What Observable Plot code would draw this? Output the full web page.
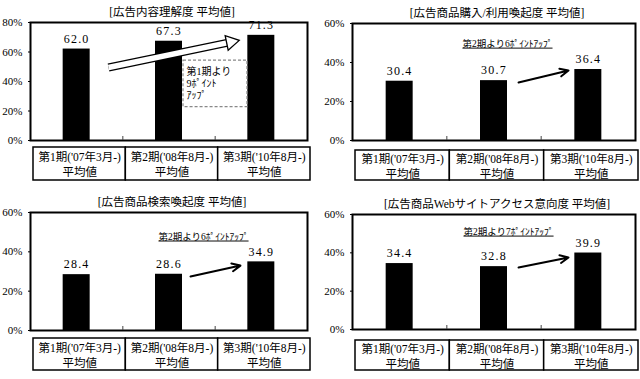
<!DOCTYPE html>
<html><head><meta charset="utf-8">
<script src="https://cdn.jsdelivr.net/npm/d3@7"></script>
<script src="https://cdn.jsdelivr.net/npm/@observablehq/plot@0.6"></script>
<style>
body{margin:0;background:#fff;}
#wrap{position:relative;width:640px;height:379px;overflow:hidden;background:#fff;}
.panel{position:absolute;}
</style></head><body><div id="wrap"></div>
<script>
// ---- data ----
const periods = ["第1期('07年3月-)", "第2期('08年8月-)", "第3期('10年8月-)"];
const periodSub = ["平均値", "平均値", "平均値"];
const titles = ["[広告内容理解度 平均値]", "[広告商品購入/利用喚起度 平均値]", "[広告商品検索喚起度 平均値]", "[広告商品Webサイトアクセス意向度 平均値]"];
const understanding = [62.0, 67.3, 71.3];
const purchase = [30.4, 30.7, 36.4];
const search = [28.4, 28.6, 34.9];
const webAccess = [34.4, 32.8, 39.9];
const yMax = [80, 60, 60, 60];
const notes = ["第1期より\n9ﾎﾟｲﾝﾄ\nｱｯﾌﾟ", "第2期より6ﾎﾟｲﾝﾄｱｯﾌﾟ", "第2期より6ﾎﾟｲﾝﾄｱｯﾌﾟ", "第2期より7ﾎﾟｲﾝﾄｱｯﾌﾟ"];

const SERIF = "'Liberation Serif', 'Noto Sans CJK JP', serif";

// ---- layout ----
const layout = [
  {values: understanding, left: 0, top: 0, height: 190, mt: 22, mb: 50, ml: 30, mr: 13, t1: 7, t2: 40,
   arrow: {x1: 0.845, y1: 49.5, x2: 2.128, y2: 66.2, hx: 2.17, hy: 66.7, rot: 78.3},
   note: {x: 1.69, y: 50.2}, box: {x1: 1.657, x2: 2.35, y1: 22.6, y2: 54.2}},
  {values: purchase, left: 320, top: 0, height: 190, mt: 23, mb: 50, ml: 32, mr: 5, t1: 10, t2: 40,
   arrow: {x1: 1.76, y1: 29.7, x2: 2.29, y2: 35.9}, note: {x: 1.643, y: 49.7}},
  {values: search, left: 0, top: 190, height: 189, mt: 22, mb: 49, ml: 30, mr: 13, t1: 8, t2: 40,
   arrow: {x1: 1.733, y1: 27.5, x2: 2.274, y2: 33.0}, note: {x: 1.874, y: 47.8}},
  {values: webAccess, left: 320, top: 190, height: 189, mt: 24, mb: 50, ml: 32, mr: 5, t1: 11, t2: 41,
   arrow: {x1: 1.76, y1: 32.3, x2: 2.29, y2: 37.6}, note: {x: 1.654, y: 51.1}}
];

const wrap = document.getElementById("wrap");

layout.forEach((p, k) => {
  const max = yMax[k];
  const data = periods.map((c, i) => ({i, c, v: p.values[i], label: c + "\n" + periodSub[i]}));
  const ph = p.height - p.mt - p.mb;
  const bw = (320 - p.ml - p.mr) / 3;
  const u = px => px * max / ph;
  const ins = (bw - 27) / 2;
  const marks = [
    Plot.rectY(data, {x1: d => d.i, x2: d => d.i + 1, y: "v", fill: "black", insetLeft: ins, insetRight: ins}),
    Plot.text(data, {x: d => d.i + 0.5, y: "v", text: d => d.v.toFixed(1), dy: -10, fontFamily: SERIF, fontSize: 12, fill: "black"}),
    Plot.frame({stroke: "black", strokeWidth: 2}),
    Plot.ruleX([1, 2], {y1: 0, y2: u(4), stroke: "#444"}),
    Plot.rect(data, {x1: d => d.i, x2: d => d.i + 1, y1: -u(p.t1), y2: -u(p.t2), fill: "white", stroke: "black", strokeWidth: 1.5, dx: 3}),
    Plot.text(data, {x: d => d.i + 0.5, y: -u((p.t1 + p.t2) / 2), text: "label", dx: 3, lineHeight: 1.3, fontFamily: SERIF, fontSize: 11.5, fill: "black"}),
    Plot.axisY({ticks: d3.range(0, max + 1, 20), tickFormat: d => d + "%", tickSize: 2, tickPadding: 6, fontFamily: SERIF, fontSize: 11, label: null}),
    Plot.text([titles[k]], {frameAnchor: "top", lineAnchor: "middle", dy: -10, dx: 3, fontFamily: SERIF, fontSize: 11.5, fill: "black"})
  ];
  if (k === 0) {
    const a = p.arrow, b = p.box, n = p.note;
    marks.push(
      Plot.rect([b], {x1: "x1", x2: "x2", y1: "y1", y2: "y2", fill: "white", stroke: "#888", strokeWidth: 1.2, strokeDasharray: "3,2"}),
      Plot.text([notes[k]], {x: n.x, y: n.y, text: d => d, textAnchor: "start", lineAnchor: "top", lineHeight: 1.2, fontFamily: SERIF, fontSize: 10, fill: "black"}),
      Plot.link([a], {x1: "x1", y1: "y1", x2: "x2", y2: "y2", stroke: "black", strokeWidth: 8}),
      Plot.link([a], {x1: "x1", y1: "y1", x2: "x2", y2: "y2", stroke: "white", strokeWidth: 5.5}),
      Plot.dot([a], {x: "hx", y: "hy", symbol: "triangle", r: 5.5, rotate: a.rot, fill: "white", stroke: "black", strokeWidth: 1.3})
    );
  } else {
    const a = p.arrow, n = p.note;
    marks.push(
      Plot.arrow([a], {x1: "x1", y1: "y1", x2: "x2", y2: "y2", stroke: "black", strokeWidth: 2, headLength: 7, headAngle: 50}),
      Plot.text([notes[k]], {x: n.x, y: n.y, text: d => d, fontFamily: SERIF, fontSize: 9.5, fill: "black"})
    );
  }
  const svg = Plot.plot({
    width: 320, height: p.height,
    marginTop: p.mt, marginBottom: p.mb, marginLeft: p.ml, marginRight: p.mr,
    x: {domain: [0, 3], axis: null},
    y: {domain: [0, max], label: null},
    style: {background: "transparent", color: "black", overflow: "visible"},
    marks
  });
  d3.select(svg).selectAll("text").each(function () {
    const t = this.textContent;
    if (/^\d+\.\d$/.test(t)) this.style.letterSpacing = "1.2px";
    if (k > 0 && t.includes("ｱｯﾌﾟ")) this.style.textDecoration = "underline";
  });
  const div = document.createElement("div");
  div.className = "panel";
  div.style.left = p.left + "px";
  div.style.top = p.top + "px";
  div.appendChild(svg);
  wrap.appendChild(div);
});
</script>
</body></html>
